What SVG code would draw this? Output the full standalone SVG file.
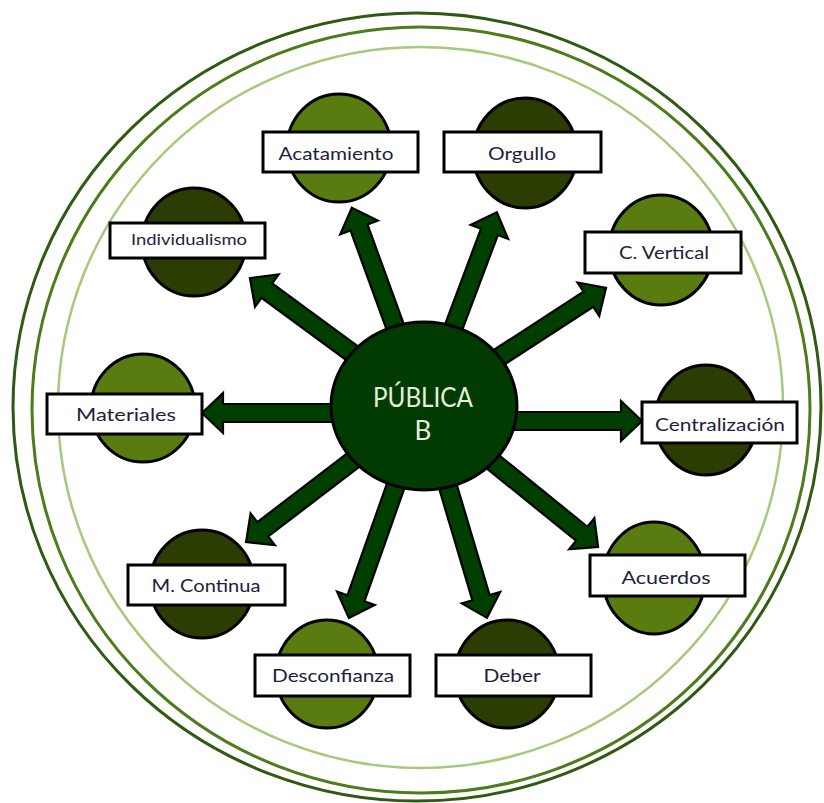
<svg xmlns="http://www.w3.org/2000/svg" width="824" height="803" viewBox="0 0 824 803">
<style>
.ring{fill:none}
.arrow{fill:#013f01;stroke:#000;stroke-width:2.2;stroke-linejoin:miter}
.lt{fill:#5a7b10;stroke:#000;stroke-width:3}
.dk{fill:#2c3d03;stroke:#000;stroke-width:3}
.box{fill:#fff;stroke:#000;stroke-width:3}
.lbl{font-family:Lato,"Open Sans","Liberation Sans",sans-serif;font-size:18px;fill:#1e1e3c;text-anchor:middle}
.ctr{font-family:Lato,"Open Sans","Liberation Sans",sans-serif;font-size:26px;fill:#e6eedc;text-anchor:middle}
</style>
<rect width="824" height="803" fill="#fff"/>
<g id="rings">
<ellipse class="ring" cx="417" cy="407" rx="404" ry="394" stroke="#2f5a12" stroke-width="3"/>
<ellipse class="ring" cx="421" cy="410" rx="389" ry="383" stroke="#4d7c1b" stroke-width="3"/>
<ellipse class="ring" cx="420.5" cy="407.5" rx="362.5" ry="360.5" stroke="#a6c97a" stroke-width="2.5"/>
</g>
<g id="connectors">
<path class="arrow" transform="translate(424 406) rotate(-110)" d="M0,-9 H190 V-20 L211,0 L190,20 V9 H0 Z"/>
<path class="arrow" transform="translate(424 406) rotate(-69.4)" d="M0,-9 H186 V-20 L207,0 L186,20 V9 H0 Z"/>
<path class="arrow" transform="translate(424 406) rotate(-33)" d="M0,-9 H196 V-20 L217,0 L196,20 V9 H0 Z"/>
<path class="arrow" transform="translate(424 421)" d="M0,-9 H197 V-20 L218,0 L197,20 V9 H0 Z"/>
<path class="arrow" transform="translate(424 406) rotate(39)" d="M0,-9 H203 V-20 L224,0 L203,20 V9 H0 Z"/>
<path class="arrow" transform="translate(424 406) rotate(73.45)" d="M0,-9 H200 V-20 L221,0 L200,20 V9 H0 Z"/>
<path class="arrow" transform="translate(424 406) rotate(109.5)" d="M0,-9 H204 V-20 L225,0 L204,20 V9 H0 Z"/>
<path class="arrow" transform="translate(424 406) rotate(142.6)" d="M0,-9 H203 V-20 L224,0 L203,20 V9 H0 Z"/>
<path class="arrow" transform="translate(424 413) rotate(180)" d="M0,-9 H201 V-20 L222,0 L201,20 V9 H0 Z"/>
<path class="arrow" transform="translate(424 406) rotate(-143.7)" d="M0,-9 H195 V-20 L216,0 L195,20 V9 H0 Z"/>
</g>
<g id="center">
<ellipse cx="424" cy="406" rx="93" ry="84" fill="#013b01" stroke="#000" stroke-width="3"/>
<text class="ctr" x="423" y="407" textLength="100" lengthAdjust="spacingAndGlyphs">PÚBLICA</text>
<text class="ctr" x="423" y="440">B</text>
</g>
<g id="acatamiento">
<ellipse class="lt" cx="339" cy="148" rx="52" ry="54"/>
<rect class="box" x="263" y="132" width="155" height="40"/>
<text class="lbl" x="336" y="160" textLength="115" lengthAdjust="spacingAndGlyphs">Acatamiento</text>
</g>
<g id="orgullo">
<ellipse class="dk" cx="525" cy="153" rx="52" ry="55"/>
<rect class="box" x="444" y="132" width="157" height="40"/>
<text class="lbl" x="522" y="160" textLength="68" lengthAdjust="spacingAndGlyphs">Orgullo</text>
</g>
<g id="cvertical">
<ellipse class="lt" cx="661" cy="250" rx="52" ry="55"/>
<rect class="box" x="585" y="232" width="156" height="41"/>
<text class="lbl" x="664" y="259" textLength="90" lengthAdjust="spacingAndGlyphs">C. Vertical</text>
</g>
<g id="centralizacion">
<ellipse class="dk" cx="706" cy="420" rx="51" ry="55"/>
<rect class="box" x="642" y="402" width="155" height="41"/>
<text class="lbl" x="720" y="431" textLength="130" lengthAdjust="spacingAndGlyphs">Centralización</text>
</g>
<g id="acuerdos">
<ellipse class="lt" cx="654" cy="578" rx="51" ry="56"/>
<rect class="box" x="590" y="555" width="155" height="41"/>
<text class="lbl" x="666" y="584" textLength="89" lengthAdjust="spacingAndGlyphs">Acuerdos</text>
</g>
<g id="deber">
<ellipse class="dk" cx="507" cy="674" rx="52" ry="54"/>
<rect class="box" x="436" y="655" width="155" height="41"/>
<text class="lbl" x="512" y="682" textLength="57" lengthAdjust="spacingAndGlyphs">Deber</text>
</g>
<g id="desconfianza">
<ellipse class="lt" cx="327" cy="674" rx="51" ry="54"/>
<rect class="box" x="255" y="655" width="155" height="41"/>
<text class="lbl" x="333" y="682" textLength="122" lengthAdjust="spacingAndGlyphs">Desconfianza</text>
</g>
<g id="mcontinua">
<ellipse class="dk" cx="202" cy="584" rx="52" ry="54"/>
<rect class="box" x="128" y="565" width="157" height="40"/>
<text class="lbl" x="206" y="592" textLength="109" lengthAdjust="spacingAndGlyphs">M. Continua</text>
</g>
<g id="materiales">
<ellipse class="lt" cx="143" cy="408" rx="52" ry="54"/>
<rect class="box" x="47" y="394" width="155" height="40"/>
<text class="lbl" x="126" y="421" textLength="100" lengthAdjust="spacingAndGlyphs">Materiales</text>
</g>
<g id="individualismo">
<ellipse class="dk" cx="194" cy="242" rx="52" ry="54"/>
<rect class="box" x="110" y="223" width="155" height="35"/>
<text class="lbl" x="189" y="245" font-size="16" style="font-size:16px" textLength="116" lengthAdjust="spacingAndGlyphs">Individualismo</text>
</g>
</svg>
